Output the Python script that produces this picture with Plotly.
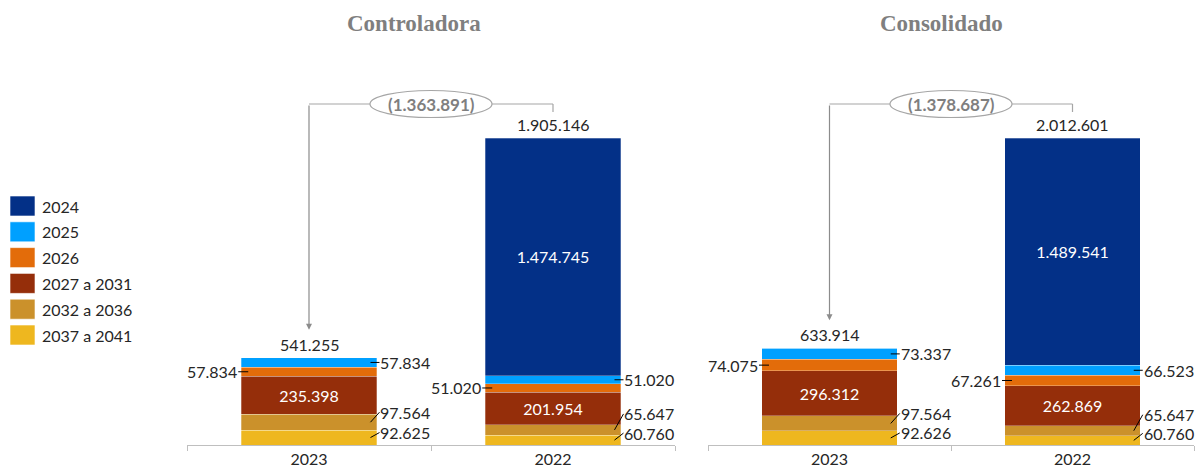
import plotly.graph_objects as go

# categories (x) and series
categories = ["2023", "2022"]
series_names = ["2037 a 2041", "2032 a 2036", "2027 a 2031", "2026", "2025", "2024"]
series_colors = ["#EEB71F", "#CB912B", "#952E0A", "#E36C0A", "#00A0FF", "#033087"]

# Controladora
ctrl_2037_2041 = [92625, 60760]
ctrl_2032_2036 = [97564, 65647]
ctrl_2027_2031 = [235398, 201954]
ctrl_2026 = [57834, 51020]
ctrl_2025 = [57834, 51020]
ctrl_2024 = [0, 1474745]

# Consolidado
cons_2037_2041 = [92626, 60760]
cons_2032_2036 = [97564, 65647]
cons_2027_2031 = [296312, 262869]
cons_2026 = [74075, 67261]
cons_2025 = [73337, 66523]
cons_2024 = [0, 1489541]

titles = ["Controladora", "Consolidado"]

W, H = 1197, 473
BASE_PX = 445                  # bar baseline in pixels
M_BOT = H - BASE_PX
M_TOP = 60
PLOT_H = H - M_TOP - M_BOT
FONT = "Lato"
TXT = "#262626"
GRAY = "#a6a6a6"


def fmt(v):
    s = "{:,}".format(abs(int(v))).replace(",", ".")
    return "(" + s + ")" if v < 0 else s


def yp(px):
    return (BASE_PX - px) / PLOT_H


def xp(px):
    return px / W


panels = [
    ([ctrl_2037_2041, ctrl_2032_2036, ctrl_2027_2031, ctrl_2026, ctrl_2025, ctrl_2024], [187, 675], 414),
    ([cons_2037_2041, cons_2032_2036, cons_2027_2031, cons_2026, cons_2025, cons_2024], [708, 1194], 941),
]

fig = go.Figure()
annotations = []
shapes = []

for p, (values, dom, title_x) in enumerate(panels):
    xa = "x" if p == 0 else "x2"
    ya = "y" if p == 0 else "y2"
    for name, color, vals in zip(series_names, series_colors, values):
        show_inside = name in ("2024", "2027 a 2031")
        fig.add_trace(go.Bar(
            x=categories, y=vals, name=name,
            marker=dict(color=color, line=dict(color="rgba(255,255,255,0.35)", width=0.8)),
            width=0.556,
            text=[fmt(v) if (show_inside and v > 0) else "" for v in vals],
            textposition="inside" if show_inside else "none",
            insidetextanchor="middle",
            textfont=dict(family=FONT, size=16, color="white"),
            xaxis=xa, yaxis=ya, showlegend=False, hoverinfo="skip",
        ))

    totals = [sum(v[i] for v in values) for i in range(len(categories))]
    ymax = max(totals) * PLOT_H / 307.0
    per_px = ymax / PLOT_H
    fig.layout[("xaxis" if p == 0 else "xaxis2")] = dict(
        domain=[xp(dom[0]), xp(dom[1])], anchor=ya, type="category",
        range=[-0.5, 1.5], showline=True, linecolor="#bfbfbf", linewidth=1,
        ticks="outside", tickson="boundaries", ticklen=5, tickcolor="#bfbfbf",
        tickfont=dict(family=FONT, size=16, color=TXT), showgrid=False,
    )
    fig.layout[("yaxis" if p == 0 else "yaxis2")] = dict(
        domain=[0, 1], anchor=xa, range=[0, ymax], visible=False,
    )

    # panel title
    annotations.append(dict(
        xref="paper", yref="paper", x=xp(title_x), y=yp(23),
        xanchor="center", yanchor="middle",
        text="<b>" + titles[p] + "</b>", showarrow=False,
        font=dict(family="Liberation Serif", size=23, color="#7f7f7f"),
    ))

    for i in range(len(categories)):
        # total above bar
        annotations.append(dict(
            xref=xa, yref=ya, x=i, y=totals[i], yanchor="bottom", yshift=2,
            text=fmt(totals[i]), showarrow=False,
            font=dict(family=FONT, size=16, color=TXT),
        ))
        cum = [sum(values[k][i] for k in range(j)) for j in range(len(values) + 1)]
        mids = [(cum[j] + cum[j + 1]) / 2 for j in range(len(values))]
        big = 0 if i == 0 else 1
        leaders = [
            (0, "right", 9, [-5, -7][big]),
            (1, "right", 9, [-10, -16][big]),
            (3, "left", -10, 0),
            (4, "right", 9, 0),
        ]
        for j, side, ax, ay in leaders:
            annotations.append(dict(
                xref=xa, yref=ya, x=i + (0.252 if side == "right" else -0.249), y=mids[j],
                ax=ax, ay=ay, xanchor="left" if side == "right" else "right",
                text=fmt(values[j][i]), showarrow=True, arrowhead=0, arrowwidth=1,
                arrowcolor="#000000", font=dict(family=FONT, size=16, color=TXT),
                borderpad=0,
            ))

    # difference bracket
    diff = totals[0] - totals[1]
    y_br = ymax * yp(104)
    shapes.append(dict(type="line", xref=xa, yref=ya, x0=0, x1=1, y0=y_br, y1=y_br,
                       line=dict(color=GRAY, width=1.2)))
    shapes.append(dict(type="line", xref=xa, yref=ya, x0=1, x1=1, y0=y_br, y1=y_br - 8 * per_px,
                       line=dict(color=GRAY, width=1.2)))
    shapes.append(dict(type="circle", xref=xa, yref=ya, xsizemode="pixel", xanchor=0.5,
                       x0=-61, x1=61, ysizemode="pixel", yanchor=y_br, y0=-13.5, y1=13.5,
                       fillcolor="white", line=dict(color=GRAY, width=1.2)))
    annotations.append(dict(
        xref=xa, yref=ya, x=0.5, y=y_br, text="<b>" + fmt(diff) + "</b>", showarrow=False,
        font=dict(family=FONT, size=17, color="#7f7f7f"),
    ))
    annotations.append(dict(
        xref=xa, yref=ya, x=0, y=totals[0], axref=xa, ayref=ya, ax=0, ay=y_br,
        text="", showarrow=True, arrowhead=2, arrowsize=1, arrowwidth=1.2,
        arrowcolor="#8c8c8c", standoff=28,
    ))

# legend (top to bottom)
for k, (name, color) in enumerate(zip(series_names[::-1], series_colors[::-1])):
    cy = 206 + k * 25.8
    shapes.append(dict(type="rect", xref="paper", yref="paper",
                       x0=xp(10), x1=xp(35), y0=yp(cy + 10), y1=yp(cy - 10),
                       fillcolor=color, line=dict(color="rgba(255,255,255,0.6)", width=1)))
    annotations.append(dict(
        xref="paper", yref="paper", x=xp(40), y=yp(cy), xanchor="left", yanchor="middle",
        text=name, showarrow=False, font=dict(family=FONT, size=16, color=TXT),
    ))

fig.update_layout(
    barmode="stack",
    width=W, height=H,
    margin=dict(l=0, r=0, t=M_TOP, b=M_BOT),
    paper_bgcolor="white", plot_bgcolor="white",
    annotations=annotations, shapes=shapes,
    font=dict(family=FONT, color=TXT),
    uniformtext=dict(minsize=16, mode="show"),
)

# drop the default page margin so the figure fills the window exactly
fig.write_html(
    "out.html",
    config={"displayModeBar": False},
    post_script="document.body.style.margin='0';document.body.style.overflow='hidden';",
)
